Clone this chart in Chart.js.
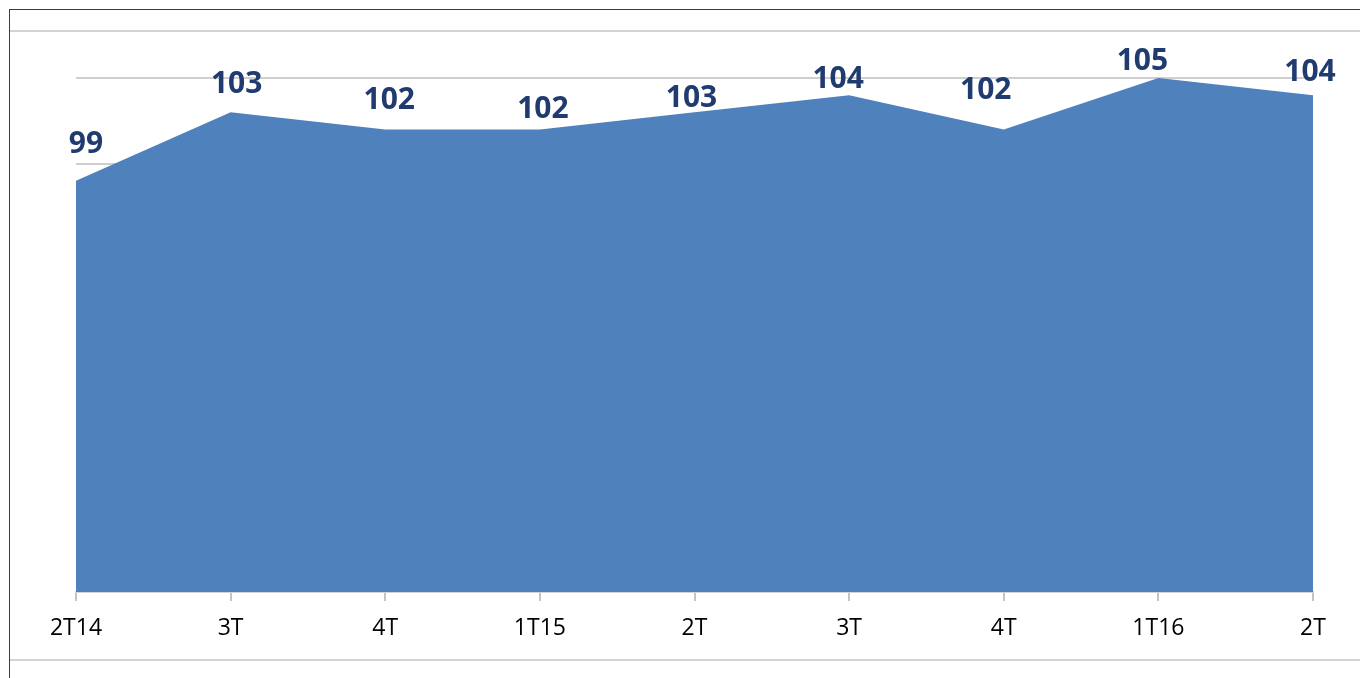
<!DOCTYPE html>
<html>
<head>
<meta charset="utf-8">
<script src="https://cdn.jsdelivr.net/npm/chart.js@4.4.0/dist/chart.umd.min.js"></script>
<style>
  html, body { margin: 0; padding: 0; background: #fff; }
  body { width: 1360px; height: 678px; position: relative; overflow: hidden; }
  .frame { position: absolute; left: 9px; top: 9px; right: 0; bottom: 0;
           border-top: 1px solid #3c3c3c; border-left: 1px solid #3c3c3c; }
  .rule { position: absolute; left: 10px; right: 0; height: 2px; background: #d3d3d3; }
  #wrap { position: absolute; left: 0; top: 0; width: 1360px; height: 678px; }
</style>
</head>
<body>
<div class="frame"></div>
<div class="rule" style="top:30px"></div>
<div class="rule" style="top:659px"></div>
<div id="wrap"><canvas id="area"></canvas></div>
<script>
// trimestres
const labels = ['2T14', '3T', '4T', '1T15', '2T', '3T', '4T', '1T16', '2T'];
const valeurs = [99, 103, 102, 102, 103, 104, 102, 105, 104];
const yMin = 75, yMax = 105, yPas = 5;

// decalage des etiquettes (dx, dy au-dessus du point), comme placees a la main dans l'original
const decalX = [10, 6, 4, 3, -3, -11, -18, -16, -3];
const decalY = [36, 28, 29, 20, 14, 16, 39, 17, 23];

const etiquettes = {
    id: 'etiquettes',
    afterDatasetsDraw(chart) {
        const ctx = chart.ctx;
        const meta = chart.getDatasetMeta(0);
        ctx.save();
        ctx.font = 'bold 30px "Open Sans", sans-serif';
        ctx.fillStyle = '#1f3b6f';
        ctx.textAlign = 'center';
        ctx.textBaseline = 'middle';
        meta.data.forEach(function (pt, i) {
            ctx.fillText(String(valeurs[i]), pt.x + decalX[i], pt.y - decalY[i]);
        });
        ctx.restore();
    }
};

const area = document.getElementById('area').getContext('2d');
const myChart = new Chart(area, {
    type: 'line',
    data: {
        labels: labels,
        datasets: [{
            data: valeurs,
            fill: 'start',
            backgroundColor: '#4f81bd',
            borderWidth: 0,
            pointRadius: 0,
            tension: 0
        }]
    },
    options: {
        responsive: true,
        maintainAspectRatio: false,
        animation: false,
        layout: { padding: { left: 76, right: 47, top: 78, bottom: 36 } },
        plugins: { legend: { display: false }, tooltip: { enabled: false } },
        scales: {
            x: {
                offset: false,
                grid: { drawOnChartArea: false, color: '#c4c4c4', tickLength: 9, lineWidth: 2 },
                border: { color: '#d4d4d4', width: 2 },
                ticks: { color: '#000', padding: 14, maxRotation: 0, autoSkip: false,
                         font: { family: '"Open Sans", sans-serif', size: 23 } },
                afterFit: function (scale) { scale.height = 50; }
            },
            y: {
                min: yMin,
                max: yMax,
                ticks: { display: false, stepSize: yPas },
                grid: { color: '#cfcfcf', lineWidth: 2, drawTicks: false },
                border: { display: false },
                afterFit: function (scale) { scale.width = 0; }
            }
        }
    },
    plugins: [etiquettes]
});
</script>
</body>
</html>
